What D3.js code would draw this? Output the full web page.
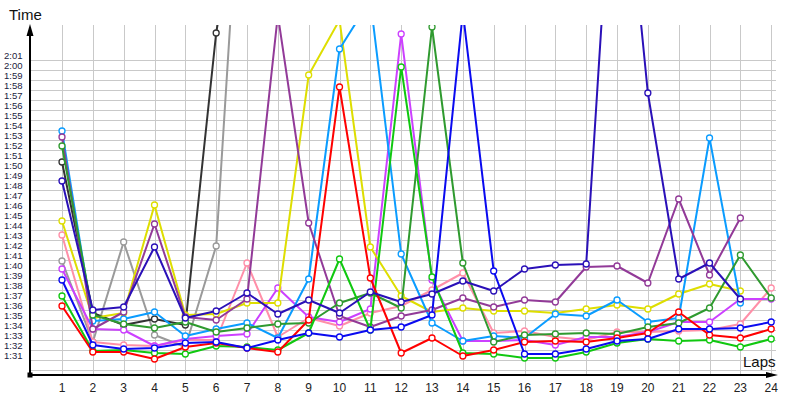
<!DOCTYPE html>
<html>
<head>
<meta charset="utf-8">
<script src="https://cdn.jsdelivr.net/npm/d3@7"></script>
<style>
  html, body { margin: 0; padding: 0; background: #fff; }
  svg { display: block; }
</style>
</head>
<body>
<svg id="chart" width="800" height="400"></svg>
<script>
// ---- DATA (lap times in seconds) ----
const laps = d3.range(1, 25);
const yTicks = d3.range(91, 122); // 1:31 ... 2:01

const red       = [95.9, 91.3, 91.3, 90.6, 91.8, 92.2, 91.7, 91.3, 94.5, 117.8, 98.7, 91.2, 92.7, 90.9, 91.5, 92.3, 92.4, 92.3, 92.7, 93.2, 95.3, 93.0, 92.7, 93.6];
const green     = [96.9, 91.4, 91.5, 91.2, 91.1, 91.9, 91.8, 91.5, 93.2, 100.6, 93.5, 119.8, 98.8, 91.2, 91.1, 90.7, 90.7, 91.3, 92.2, 92.6, 92.4, 92.5, 91.8, 92.6];
const darkGreen = [111.9, 95.0, 94.1, 93.7, 94.3, 93.3, 93.7, 94.1, 94.2, 96.2, 97.2, 95.7, 123.8, 100.2, 92.3, 93.0, 93.1, 93.2, 93.1, 93.8, 94.2, 95.7, 101.0, 96.7];
const blue      = [98.5, 92.0, 91.6, 91.7, 92.2, 92.3, 91.7, 92.5, 93.2, 92.8, 93.5, 93.8, 95.0, 125.3, 99.4, 91.1, 91.1, 91.6, 92.4, 92.6, 93.6, 93.6, 93.7, 94.3];
const navy      = [108.4, 95.5, 95.8, 101.8, 94.7, 95.4, 97.2, 95.1, 96.5, 95.2, 97.3, 96.3, 97.1, 98.4, 97.4, 99.6, 100.0, 100.1, 148.5, 117.2, 98.6, 100.2, 96.6];
const cyan      = [113.4, 94.4, 94.6, 95.3, 92.9, 93.6, 94.2, 92.7, 98.6, 121.6, 126.5, 101.1, 94.2, 92.4, 92.9, 92.7, 95.1, 94.9, 96.5, 94.3, 94.7, 112.7, 96.2];
const yellow    = [104.4, 94.7, 95.2, 106.0, 95.0, 95.1, 96.2, 96.2, 119.0, 124.5, 101.8, 96.9, 95.3, 95.7, 95.4, 95.4, 95.2, 95.6, 96.0, 95.6, 97.1, 98.1, 97.4];
const pink      = [103.0, 92.3, 92.0, 91.9, 92.5, 92.5, 100.2, 92.8, 94.7, 93.9, 95.2, 95.9, 97.5, 99.2, 93.2, 93.4, 92.8, 92.5, 93.3, 93.3, 93.4, 93.5, 94.1, 97.7];
const violet    = [99.6, 93.6, 93.5, 91.9, 92.6, 92.9, 93.1, 97.7, 94.8, 94.3, 95.6, 123.1, 98.5, 92.4, 92.4, 92.5, 92.0, 92.8, 92.8, 93.3, 94.3, 94.3, 96.6, 96.6];
const purple    = [112.8, 93.6, 95.3, 104.1, 94.8, 94.5, 96.6, 125.0, 104.2, 94.9, 93.8, 94.9, 95.5, 96.7, 95.8, 96.5, 96.3, 99.8, 99.9, 98.2, 106.6, 99.0, 104.7];
const gray      = [100.4, 92.3, 102.3, 93.0, 91.8, 101.9, 150.8];
const darkGray  = [110.3, 95.2, 94.0, 94.6, 94.0, 123.2, 142.0];

const series = [
  { name: "gray",      color: "#9a9a9a", values: gray },
  { name: "darkGray",  color: "#333333", values: darkGray },
  { name: "pink",      color: "#ff8fa8", values: pink },
  { name: "violet",    color: "#cc40ff", values: violet },
  { name: "yellow",    color: "#dede00", values: yellow },
  { name: "cyan",      color: "#0a9cff", values: cyan },
  { name: "purple",    color: "#923a98", values: purple },
  { name: "darkGreen", color: "#2f9a2f", values: darkGreen },
  { name: "green",     color: "#10c810", values: green },
  { name: "red",       color: "#ff0000", values: red },
  { name: "blue",      color: "#0a0af0", values: blue },
  { name: "navy",      color: "#2a10b8", values: navy }
];

// ---- LAYOUT ----
const svg = d3.select("#chart");
const axisX0 = 30, axisY0 = 375, plotTop = 25, plotRight = 776;

const x = d3.scaleLinear().domain([1, 24]).range([62, 771.2]);
const y = d3.scaleLinear().domain([91, 121]).range([355, 55]);

const fmt = s => Math.floor(s / 60) + ":" + String(Math.round(s % 60)).padStart(2, "0");

// clip
svg.append("defs").append("clipPath").attr("id", "plotclip")
  .append("rect").attr("x", axisX0).attr("y", plotTop)
  .attr("width", 800 - axisX0).attr("height", axisY0 - plotTop);

// grid: horizontal lines between second labels
const grid = svg.append("g").attr("stroke", "#c9c9c9").attr("stroke-width", 1);
grid.selectAll("line.h").data(d3.range(90, 122)).join("line")
  .attr("x1", axisX0).attr("x2", plotRight)
  .attr("y1", d => Math.round(y(d - 0.5)) + 0.5)
  .attr("y2", d => Math.round(y(d - 0.5)) + 0.5);
grid.selectAll("line.v").data(laps).join("line")
  .attr("x1", d => Math.round(x(d)) + 0.5).attr("x2", d => Math.round(x(d)) + 0.5)
  .attr("y1", plotTop).attr("y2", axisY0);

// y labels
svg.append("g").selectAll("text").data(yTicks).join("text")
  .attr("x", 4).attr("y", d => y(d))
  .attr("dominant-baseline", "central")
  .attr("font-family", "Liberation Sans, Arial, sans-serif")
  .attr("font-size", 9.5).attr("fill", "#1c1c40")
  .text(fmt);

// x labels
svg.append("g").selectAll("text").data(laps).join("text")
  .attr("x", d => x(d)).attr("y", 392)
  .attr("text-anchor", "middle")
  .attr("font-family", "Liberation Sans, Arial, sans-serif")
  .attr("font-size", 12).attr("fill", "#222")
  .text(d => d);

// axes
svg.append("line").attr("x1", axisX0).attr("x2", axisX0).attr("y1", 33).attr("y2", axisY0)
  .attr("stroke", "#000").attr("stroke-width", 2);
svg.append("path").attr("d", `M${axisX0 - 3.5},36 L${axisX0},24 L${axisX0 + 3.5},36 Z`).attr("fill", "#000");
svg.append("line").attr("x1", axisX0).attr("x2", 768).attr("y1", axisY0).attr("y2", axisY0)
  .attr("stroke", "#000").attr("stroke-width", 2);
svg.append("path").attr("d", `M766,${axisY0 - 3} L778,${axisY0} L766,${axisY0 + 3} Z`).attr("fill", "#000");
svg.append("rect").attr("x", axisX0 - 2.5).attr("y", axisY0 - 2.5).attr("width", 5).attr("height", 5).attr("fill", "#000");

svg.append("text").attr("x", 9).attr("y", 20)
  .attr("font-family", "Liberation Sans, Arial, sans-serif").attr("font-size", 15).attr("fill", "#111")
  .text("Time");
svg.append("text").attr("x", 743).attr("y", 367)
  .attr("font-family", "Liberation Sans, Arial, sans-serif").attr("font-size", 15).attr("fill", "#111")
  .text("Laps");

// series
const line = d3.line().x((d, i) => x(i + 1)).y(d => y(d));
const plot = svg.append("g").attr("clip-path", "url(#plotclip)");
series.forEach(s => {
  const g = plot.append("g");
  g.append("path").datum(s.values).attr("d", line)
    .attr("fill", "none").attr("stroke", s.color).attr("stroke-width", 2)
    .attr("stroke-linejoin", "round");
  g.selectAll("circle").data(s.values).join("circle")
    .attr("cx", (d, i) => x(i + 1)).attr("cy", d => y(d)).attr("r", 3)
    .attr("fill", "#fff").attr("stroke", s.color).attr("stroke-width", 1.3);
});
</script>
</body>
</html>
